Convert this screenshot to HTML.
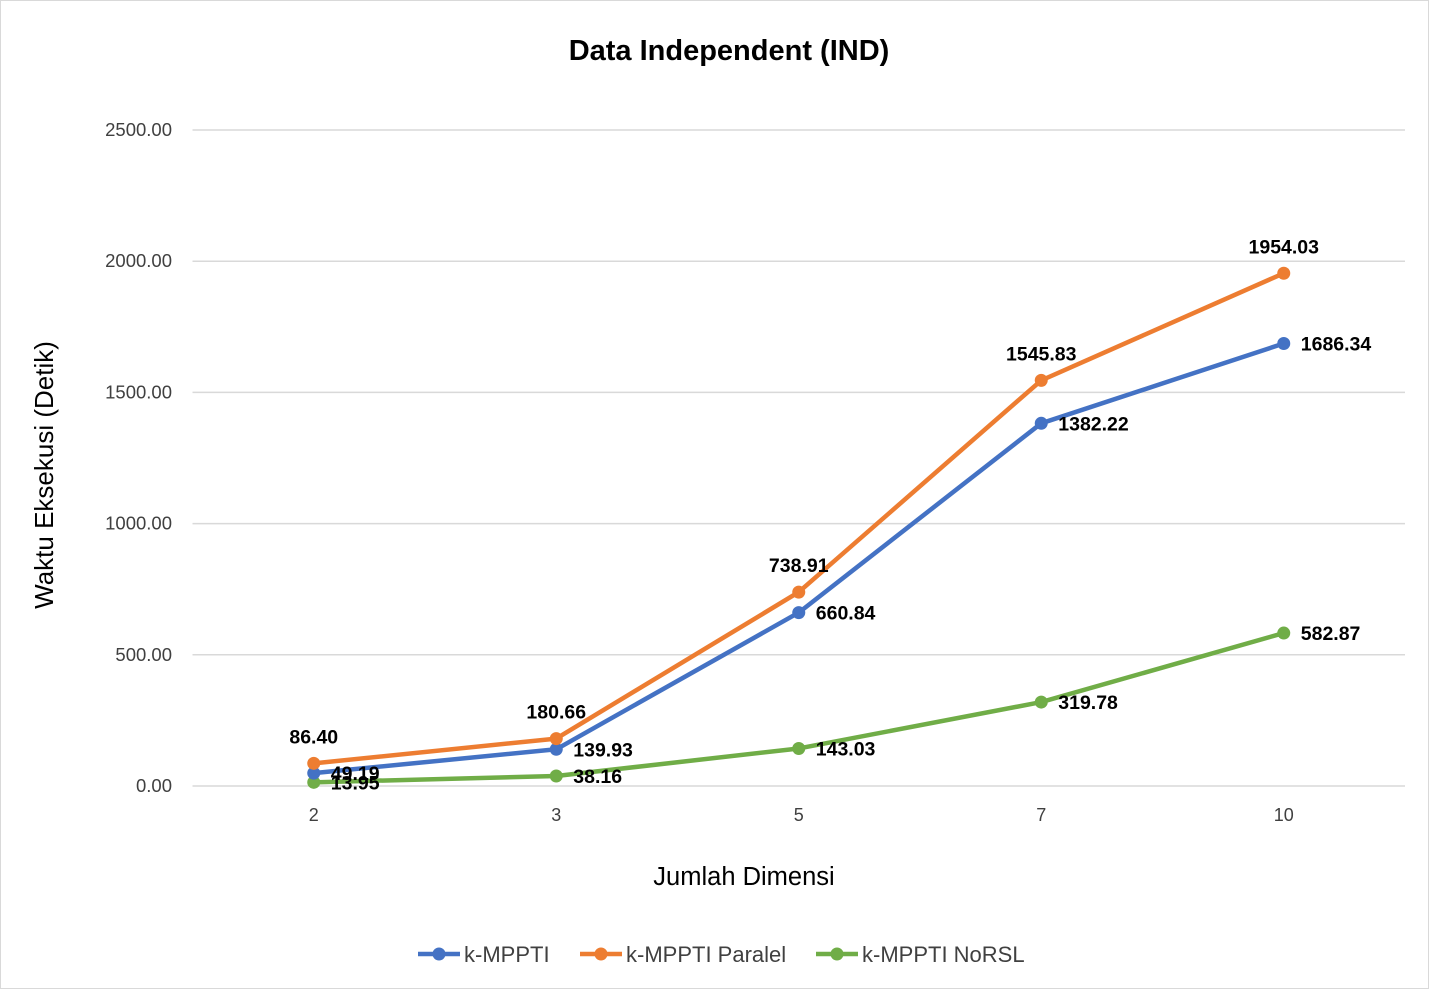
<!DOCTYPE html>
<html><head><meta charset="utf-8"><style>
body{margin:0;background:#fff;}
svg{display:block;font-family:"Liberation Sans",sans-serif;}
</style></head><body>
<svg id="chart" width="1429" height="989">
<rect x="0.5" y="0.5" width="1428" height="988" fill="#fff" stroke="#d9d9d9"/>
<text x="729" y="60" text-anchor="middle" font-size="29" font-weight="bold" fill="#000">Data Independent (IND)</text>
<text transform="translate(53,475) rotate(-90)" text-anchor="middle" font-size="26" fill="#000">Waktu Eksekusi (Detik)</text>
<text x="744" y="885" text-anchor="middle" font-size="25.5" fill="#000">Jumlah Dimensi</text>
<g id="grid"></g><g id="xt"></g><g id="series"></g><g id="legend"></g>
</svg>
<script>
const categories=["2","3","5","7","10"];
const yTicks=[0,500,1000,1500,2000,2500];
const seriesNames=["k-MPPTI","k-MPPTI Paralel","k-MPPTI NoRSL"];
const seriesBlue=[49.19,139.93,660.84,1382.22,1686.34];
const seriesOrange=[86.40,180.66,738.91,1545.83,1954.03];
const seriesGreen=[13.95,38.16,143.03,319.78,582.87];
const NS="http://www.w3.org/2000/svg";
const X0=192.5,X1=1405,Y0=786,Y1=130,YMAX=2500;
const bw=(X1-X0)/categories.length;
const xs=i=>X0+bw*(i+0.5);
const ys=v=>Y0-(v/YMAX)*(Y0-Y1);
function mk(t,a,p){const e=document.createElementNS(NS,t);for(const k in a)e.setAttribute(k,a[k]);p.appendChild(e);return e;}
const grid=document.getElementById('grid');
yTicks.forEach(v=>{
 const l=mk('line',{x1:X0,x2:X1,y1:ys(v),y2:ys(v),stroke:'#d9d9d9','stroke-width':1.5},grid);
 
 
 const t=mk('text',{x:172,y:ys(v)+6,'text-anchor':'end','font-size':18.5,fill:'#404040'},grid);
 t.textContent=v.toFixed(2);
 
 
});
const xt=document.getElementById('xt');
categories.forEach((c,i)=>{
 const t=mk('text',{x:xs(i),y:821,'text-anchor':'middle','font-size':18,fill:'#404040'},xt);
 t.textContent=c;
 
 
});
const sg=document.getElementById('series');
const defs=[
 {vals:seriesBlue,color:'#4472c4',pos:'right'},
 {vals:seriesOrange,color:'#ed7d31',pos:'above'},
 {vals:seriesGreen,color:'#70ad47',pos:'right'}];
const order=[2,0,1];
order.forEach(si=>{
 const d=defs[si];
 const g=mk('g',{},sg);
 
 
 const p=mk('polyline',{points:d.vals.map((v,i)=>xs(i)+','+ys(v)).join(' '),fill:'none',stroke:d.color,'stroke-width':4.5,'stroke-linejoin':'round'},g);
 
 
 d.vals.forEach((v,i)=>{
  const c=mk('circle',{cx:xs(i),cy:ys(v),r:6.5,fill:d.color},g);
  
  
 });
});
[0,1,2].forEach(si=>{
 const d=defs[si];
 d.vals.forEach((v,i)=>{
  let a;
  if(d.pos==='above') a={x:xs(i),y:ys(v)-20,'text-anchor':'middle'};
  else a={x:xs(i)+17,y:ys(v)+7,'text-anchor':'start'};
  const t=mk('text',Object.assign(a,{'font-size':19.5,'font-weight':'bold',fill:'#000'}),sg);
  t.textContent=v.toFixed(2);
  
  
 });
});
const lg=document.getElementById('legend');
const lx=[418,580,816];
seriesNames.forEach((n,i)=>{
 const g=mk('g',{},lg);
 
 
 mk('line',{x1:lx[i],x2:lx[i]+42,y1:954,y2:954,stroke:defs[i].color,'stroke-width':4.5},g);
 mk('circle',{cx:lx[i]+21,cy:954,r:6.5,fill:defs[i].color},g);
 const t=mk('text',{x:lx[i]+46,y:962,'font-size':22,fill:'#404040'},g);
 t.textContent=n;
});
</script>
</body></html>
